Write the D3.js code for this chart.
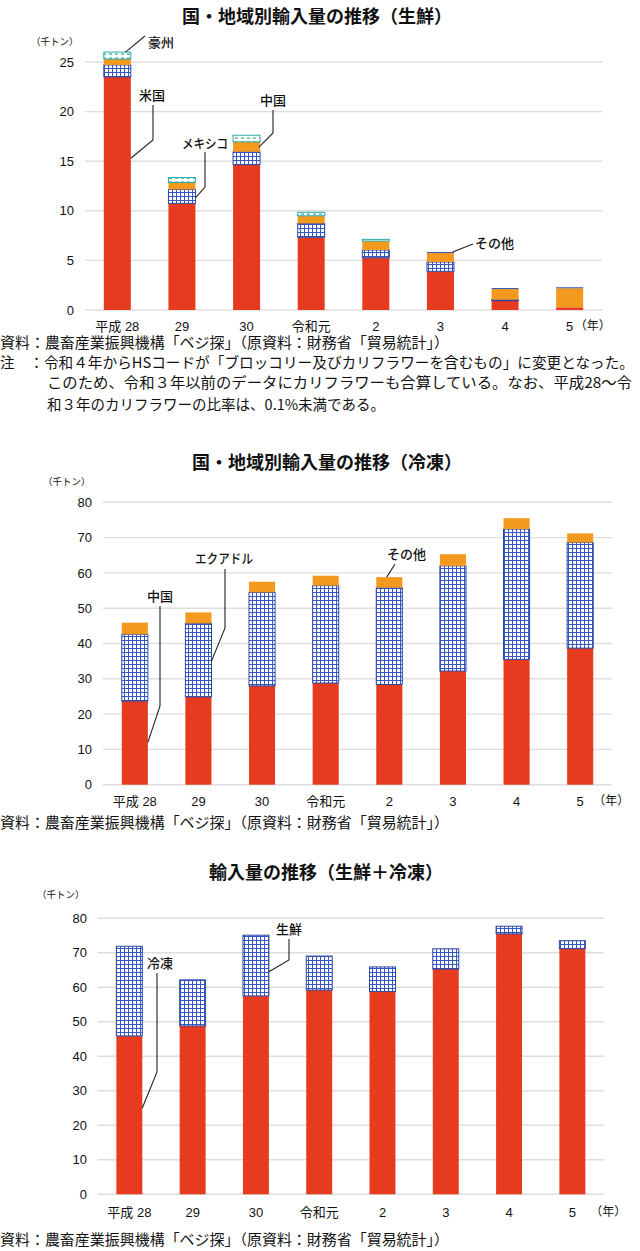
<!DOCTYPE html>
<html><head><meta charset="utf-8">
<script src="https://cdn.jsdelivr.net/npm/d3@7"></script>
<style>
html,body{margin:0;padding:0;background:#fff;}
svg{display:block;}
text{font-family:"Liberation Sans","Noto Sans CJK JP",sans-serif;fill:#111;}
.cjk{font-family:"Noto Sans CJK JP",sans-serif;}
</style></head>
<body>
<script>
// ---------- DATA ----------
const years = ["平成 28","29","30","令和元","2","3","4","5"];

// Chart 1: fresh (千トン)
const freshUS        = [23.5, 10.75, 14.65, 7.33, 5.27, 3.9, 0.94, 0.27];
const freshMexico    = [1.2, 1.4, 1.3, 1.4, 0.78, 0.94, 0.1, 0.0];
const freshChina     = [0.6, 0.7, 1.0, 0.77, 0.9, 0.9, 1.07, 1.92];
const freshAustralia = [0.7, 0.5, 0.67, 0.35, 0.17, 0.0, 0.0, 0.0];
const freshOther     = [0.0, 0.0, 0.0, 0.0, 0.0, 0.1, 0.1, 0.1];
const ticks1 = [0, 5, 10, 15, 20, 25];

// Chart 2: frozen (千トン)
const frozenChina   = [23.7, 24.9, 28.0, 28.8, 28.4, 32.2, 35.5, 38.7];
const frozenEcuador = [18.9, 20.8, 26.5, 27.6, 27.4, 29.8, 36.9, 29.9];
const frozenOther   = [3.3, 3.1, 3.0, 2.8, 3.0, 3.3, 3.1, 2.6];
const ticks2 = [0, 10, 20, 30, 40, 50, 60, 70, 80];

// Chart 3: totals (千トン)
const totalFrozen = [45.9, 48.8, 57.5, 59.2, 58.8, 65.3, 75.5, 71.2];
const totalFresh  = [26.0, 13.35, 17.6, 9.85, 7.1, 5.85, 2.2, 2.3];
const ticks3 = [0, 10, 20, 30, 40, 50, 60, 70, 80];

const sourceText = "資料：農畜産業振興機構「ベジ探」（原資料：財務省「貿易統計」）";
const noteLines = [
  "注　：令和４年からHSコードが「ブロッコリー及びカリフラワーを含むもの」に変更となった。",
  "このため、令和３年以前のデータにカリフラワーも合算している。なお、平成28～令",
  "和３年のカリフラワーの比率は、0.1%未満である。"
];

// ---------- DRAW ----------
const W = 640, H = 1251;
const svg = d3.select("body").append("svg").attr("width", W).attr("height", H);
const defs = svg.append("defs");

const RED = "#e63b1f", ORANGE = "#f39a1e", BLUE = "#2e4fb0", TEAL = "#2aa9a9";

const pg = defs.append("pattern").attr("id","grid").attr("patternUnits","userSpaceOnUse")
  .attr("width",4).attr("height",4);
pg.append("rect").attr("width",4).attr("height",4).attr("fill","#fff");
pg.append("path").attr("d","M0,0.5H4M0.5,0V4").attr("stroke","#3657c2").attr("stroke-width",1.1).attr("fill","none");

const pt = defs.append("pattern").attr("id","teal").attr("patternUnits","userSpaceOnUse")
  .attr("width",6).attr("height",4);
pt.append("rect").attr("width",6).attr("height",4).attr("fill","#fff");
pt.append("rect").attr("x",1).attr("y",1.5).attr("width",3).attr("height",1.2).attr("fill",TEAL);

function drawChart(cfg) {
  const g = svg.append("g");
  const x = d3.scaleBand().domain(years).range(cfg.xr)
    .paddingInner(cfg.pad).paddingOuter(cfg.pad/2);
  const y = d3.scaleLinear().domain(cfg.yd).range(cfg.yr);
  const bw = x.bandwidth();

  // gridlines
  g.append("g").selectAll("line").data(cfg.ticks).join("line")
    .attr("x1", cfg.xr[0]).attr("x2", cfg.xr[1])
    .attr("y1", d => y(d)).attr("y2", d => y(d))
    .attr("stroke", "#dedede").attr("stroke-width", 1.4);

  // y axis labels
  const ya = d3.axisLeft(y).tickValues(cfg.ticks).tickSize(0).tickPadding(0);
  const yg = g.append("g").attr("transform", `translate(${cfg.ylabX},0)`).call(ya);
  yg.select(".domain").remove();
  yg.selectAll("text").attr("font-size", 13).attr("fill", "#111")
    .style("font-family", '"Liberation Sans",sans-serif');

  // x axis labels
  const xa = d3.axisBottom(x).tickSize(0).tickPadding(0);
  const xg = g.append("g").attr("transform", `translate(0,${cfg.xlabY})`).call(xa);
  xg.select(".domain").remove();
  xg.selectAll("text").attr("font-size", 13).attr("fill", "#111").attr("dy", "0.35em")
    .style("font-family", '"Liberation Sans","Noto Sans CJK JP",sans-serif');
  g.append("text").attr("x", x("5") + bw/2 + cfg.nenDx).attr("y", cfg.xlabY).attr("dy","0.35em")
    .attr("font-size", 12).attr("class","cjk").text("（年）");

  // stacks
  const keys = cfg.series.map(s => s.key);
  const rows = years.map((yr, i) => {
    const o = {year: yr};
    cfg.series.forEach(s => o[s.key] = s.values[i]);
    return o;
  });
  const stack = d3.stack().keys(keys)(rows);
  stack.forEach((layer, li) => {
    const s = cfg.series[li];
    g.append("g").selectAll("rect").data(layer.filter(d => d[1] - d[0] > 0)).join("rect")
      .attr("x", d => x(d.data.year))
      .attr("width", bw)
      .attr("y", d => y(d[1]))
      .attr("height", d => Math.max(0.8, y(d[0]) - y(d[1])))
      .attr("fill", s.fill)
      .attr("stroke", s.stroke || "none")
      .attr("stroke-width", s.stroke ? 1 : 0);
  });

  // title & unit
  g.append("text").attr("x", cfg.titleX).attr("y", cfg.titleY).attr("dy","0.35em")
    .attr("text-anchor","middle").attr("font-size", 18).attr("font-weight","bold")
    .attr("class","cjk").text(cfg.title);
  g.append("text").attr("x", cfg.unitX).attr("y", cfg.unitY).attr("dy","0.35em")
    .attr("font-size", 9.5).attr("class","cjk").text("（千トン）");

  // annotations
  cfg.ann.forEach(a => {
    const end = [x(years[a.cat]) + bw * a.fx, y(a.v)];
    const pts = a.pts.concat([end]);
    g.append("path").attr("d", d3.line()(pts)).attr("fill","none")
      .attr("stroke","#222").attr("stroke-width",1.1);
    const t = g.append("text").attr("x", a.tx).attr("y", a.ty).attr("dy","0.35em")
      .attr("font-size", 13).attr("class","cjk").attr("font-weight", 500).text(a.label);
    if (a.len) t.attr("textLength", a.len).attr("lengthAdjust","spacingAndGlyphs");
  });
  return g;
}

drawChart({
  title: "国・地域別輸入量の推移（生鮮）", titleX: 317, titleY: 17,
  unitX: 31, unitY: 42,
  xr: [85, 602], pad: 0.582, yd: [0, 25], yr: [310, 62], ticks: ticks1,
  ylabX: 74, xlabY: 326, nenDx: 5,
  series: [
    {key:"米国", values: freshUS, fill: RED},
    {key:"メキシコ", values: freshMexico, fill: "url(#grid)", stroke: "#2a47a6"},
    {key:"中国", values: freshChina, fill: ORANGE},
    {key:"豪州", values: freshAustralia, fill: "url(#teal)", stroke: TEAL},
    {key:"その他", values: freshOther, fill: BLUE}
  ],
  ann: [
    {label:"豪州", tx:148, ty:42, pts:[[145,36]], cat:0, fx:0.8, v:26.0},
    {label:"米国", tx:139, ty:95, pts:[[153,105],[153,140]], cat:0, fx:1.0, v:15.3},
    {label:"メキシコ", tx:182, ty:143, len:46, pts:[[205,152],[205,187]], cat:1, fx:1.0, v:11.3},
    {label:"中国", tx:260, ty:100, pts:[[273,110],[273,133]], cat:2, fx:0.95, v:16.4},
    {label:"その他", tx:475, ty:243, pts:[[473,244]], cat:5, fx:0.95, v:5.85}
  ]
});

drawChart({
  title: "国・地域別輸入量の推移（冷凍）", titleX: 327, titleY: 463,
  unitX: 43, unitY: 482,
  xr: [103, 612], pad: 0.59, yd: [0, 80], yr: [784.7, 502.3], ticks: ticks2,
  ylabX: 92, xlabY: 801, nenDx: 13,
  series: [
    {key:"中国", values: frozenChina, fill: RED},
    {key:"エクアドル", values: frozenEcuador, fill: "url(#grid)", stroke: "#2a47a6"},
    {key:"その他", values: frozenOther, fill: ORANGE}
  ],
  ann: [
    {label:"中国", tx:147, ty:596, pts:[[160,606],[160,706]], cat:0, fx:1.0, v:12},
    {label:"エクアドル", tx:195, ty:558, len:58, pts:[[225,569],[225,628]], cat:1, fx:1.0, v:35},
    {label:"その他", tx:387, ty:554, pts:[[395,564]], cat:4, fx:0.4, v:58.8}
  ]
});

drawChart({
  title: "輸入量の推移（生鮮＋冷凍）", titleX: 326, titleY: 873,
  unitX: 37, unitY: 895,
  xr: [97.7, 604], pad: 0.59, yd: [0, 80], yr: [1194.3, 918.3], ticks: ticks3,
  ylabX: 87, xlabY: 1212, nenDx: 18,
  series: [
    {key:"冷凍", values: totalFrozen, fill: RED},
    {key:"生鮮", values: totalFresh, fill: "url(#grid)", stroke: "#2a47a6"}
  ],
  ann: [
    {label:"冷凍", tx:147, ty:963, pts:[[157,973],[157,1072]], cat:0, fx:1.0, v:25},
    {label:"生鮮", tx:276, ty:929, pts:[[289,939],[289,960]], cat:2, fx:1.0, v:64.5}
  ]
});

// sources & notes
function srcLine(txt, xx, yy, len) {
  svg.append("text").attr("x", xx).attr("y", yy).attr("dy","0.35em")
    .attr("font-size", 14.5).attr("class","cjk")
    .attr("textLength", len).attr("lengthAdjust","spacingAndGlyphs").text(txt);
}
srcLine(sourceText, 0, 343, 449);
srcLine(noteLines[0], 0, 363, 634);
srcLine(noteLines[1], 47, 383, 585);
srcLine(noteLines[2], 47, 405, 338);
srcLine(sourceText, 0, 823, 449);
srcLine(sourceText, 0, 1240, 449);
</script>
</body></html>
